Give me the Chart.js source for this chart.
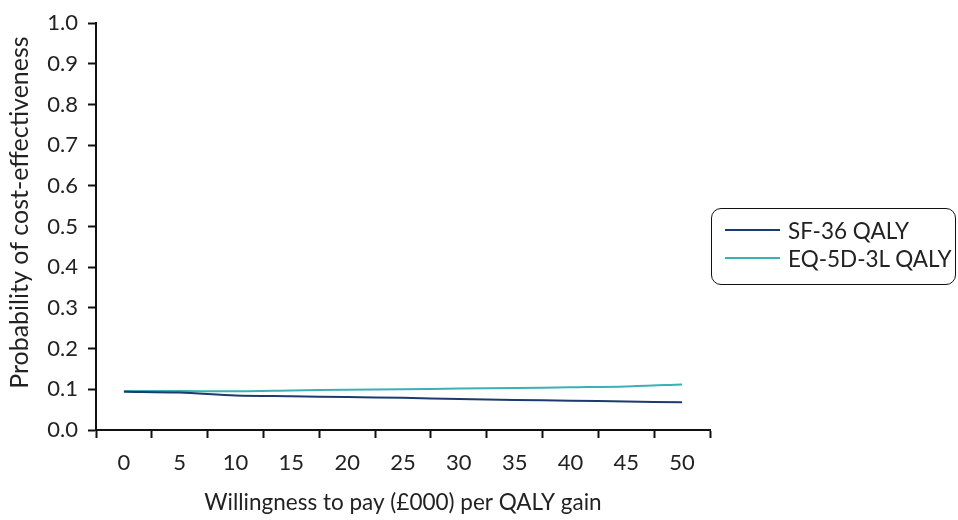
<!DOCTYPE html>
<html>
<head>
<meta charset="utf-8">
<script src="https://cdn.jsdelivr.net/npm/chart.js@4.4.1/dist/chart.umd.min.js"></script>
<style>
  html, body { margin: 0; padding: 0; background: #fff; }
  #wrap { position: relative; width: 958px; height: 520px; }
  #legend {
    position: absolute; left: 711px; top: 208px; width: 245px; height: 77px;
    border: 1.5px solid #111; border-radius: 10px; box-sizing: border-box;
    font-family: Lato, sans-serif; font-size: 22.5px; color: #222;
    padding: 7px 0 0 13px;
  }
  .item { display: flex; align-items: center; height: 28px; white-space: nowrap; }
  .swatch { width: 55px; height: 2px; margin-right: 8px; }
</style>
</head>
<body>
<div id="wrap">
  <canvas id="chart" width="958" height="520"></canvas>
  <div id="legend"></div>
</div>
<script>
// Données
const wtpLabels = ["0", "5", "10", "15", "20", "25", "30", "35", "40", "45", "50"];
const sf36Values = [0.094, 0.092, 0.085, 0.083, 0.081, 0.079, 0.076, 0.074, 0.072, 0.070, 0.068];
const eq5dValues = [0.096, 0.096, 0.095, 0.097, 0.099, 0.100, 0.102, 0.103, 0.105, 0.107, 0.112];
const seriesNames = ["SF-36 QALY", "EQ-5D-3L QALY"];
const seriesColors = ["#1d3a70", "#3bb0b6"];
const yTitle = "Probability of cost-effectiveness";
const xTitle = "Willingness to pay (£000) per QALY gain";

const fontFamily = "Lato, sans-serif";
const axisColor = "#111";

// Légende HTML (cadre arrondi comme sur l'original)
const legend = document.getElementById("legend");
seriesNames.forEach(function (name, i) {
    const row = document.createElement("div");
    row.className = "item";
    row.innerHTML = '<span class="swatch" style="background:' + seriesColors[i] + '"></span>' + name;
    legend.appendChild(row);
});

// Titre de l'axe Y dessiné à la main : dans l'original il n'est pas
// centré sur la zone du graphique mais légèrement remonté.
const yTitlePlugin = {
    id: "yTitlePlugin",
    afterDraw: function (chart) {
        const ctx = chart.ctx;
        const area = chart.chartArea;
        ctx.save();
        ctx.translate(20, (area.top + area.bottom) / 2 - 14);
        ctx.rotate(-Math.PI / 2);
        ctx.font = "25px " + fontFamily;
        ctx.fillStyle = "#222";
        ctx.textAlign = "center";
        ctx.textBaseline = "middle";
        ctx.fillText(yTitle, 0, 0);
        ctx.restore();
    }
};

new Chart(document.getElementById("chart"), {
    type: "line",
    data: {
        labels: wtpLabels,
        datasets: [
            {
                label: seriesNames[0],
                data: sf36Values,
                borderColor: seriesColors[0],
                borderWidth: 2,
                pointRadius: 0,
                tension: 0.3,
                fill: false
            },
            {
                label: seriesNames[1],
                data: eq5dValues,
                borderColor: seriesColors[1],
                borderWidth: 2,
                pointRadius: 0,
                tension: 0.3,
                fill: false
            }
        ]
    },
    plugins: [yTitlePlugin],
    options: {
        responsive: false,
        animation: false,
        layout: { padding: { top: 21, right: 248, left: 0, bottom: 0 } },
        plugins: {
            legend: { display: false },
            tooltip: { enabled: false }
        },
        scales: {
            x: {
                type: "category",
                offset: true,
                afterFit: function (scale) { scale.height = 90; },
                border: { color: axisColor, width: 2 },
                grid: {
                    drawOnChartArea: false,
                    drawTicks: true,
                    tickLength: 8,
                    tickWidth: 2,
                    tickColor: axisColor,
                    offset: true
                },
                ticks: {
                    color: "#222",
                    padding: 12,
                    maxRotation: 0,
                    font: { family: fontFamily, size: 22 }
                },
                title: {
                    display: true,
                    text: xTitle,
                    color: "#222",
                    padding: { top: 15 },
                    font: { family: fontFamily, size: 22.5 }
                }
            },
            y: {
                min: 0,
                max: 1,
                afterFit: function (scale) { scale.width = 96; },
                border: { color: axisColor, width: 2 },
                grid: {
                    drawOnChartArea: false,
                    tickLength: 8,
                    tickWidth: 2,
                    tickColor: axisColor
                },
                ticks: {
                    stepSize: 0.1,
                    color: "#222",
                    padding: 10,
                    font: { family: fontFamily, size: 22 },
                    callback: function (value) { return value.toFixed(1); }
                }
            }
        }
    }
});
</script>
</body>
</html>
